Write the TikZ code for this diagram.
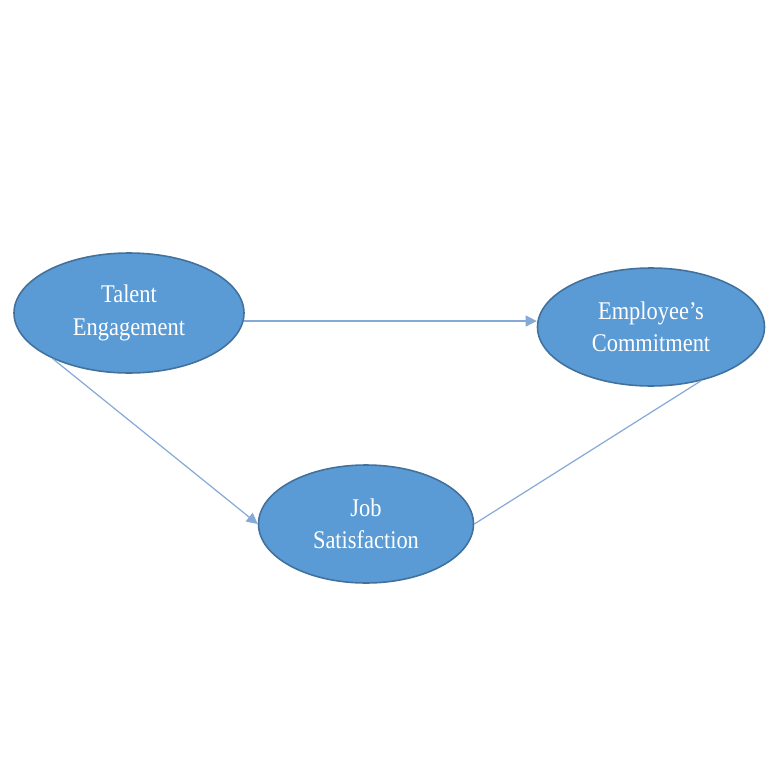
\documentclass[tikz,border=0pt]{standalone}
\usepackage{fontspec}
\setmainfont{Liberation Serif}[FakeStretch=0.88]
\usepackage{xcolor}
\usepackage{tikz}
\usetikzlibrary{positioning,shapes,arrows.meta}
\definecolor{bubble}{HTML}{5B9BD5}
\definecolor{rim}{HTML}{41719C}
\definecolor{link}{HTML}{86AAD6}
\tikzset{
    construct/.style={ellipse, draw=rim, line width=0.9pt, fill=bubble, minimum width=4.6cm, minimum height=2.4cm, align=center, text=white, font=\fontsize{14.5}{18.5}\selectfont},
    arrow/.style={-{Triangle[length=0.22cm, width=0.22cm]}, line width=0.7pt, color=link},
    plain/.style={line width=0.7pt, color=link}
}
\begin{document}
\begin{tikzpicture}

\useasboundingbox (0,0) rectangle (15.5,-15.5);

% Constructs
\node[construct] (talent) at (2.58,-6.26) {Talent\\Engagement};
\node[construct, minimum width=4.54cm, minimum height=2.36cm] (commit) at (13.02,-6.54) {Employee's\\Commitment};
\node[construct, minimum width=4.3cm, minimum height=2.36cm] (jobsat) at (7.32,-10.48) {Job\\Satisfaction};

% Paths
\draw[arrow] (talent.356) -- (commit.west |- talent.356);
\draw[arrow] (talent.211) -- (jobsat.west);
\draw[plain] (jobsat.east) -- (commit.313);

\end{tikzpicture}
\end{document}
